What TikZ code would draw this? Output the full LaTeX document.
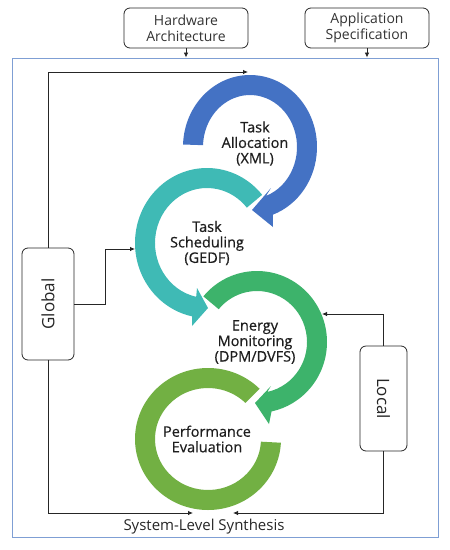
\documentclass[tikz,border=0pt]{standalone}
\usepackage{fontspec}
\setmainfont{Open Sans}
\newfontfamily\labfont{Open Sans}[FakeBold=0.6]
\usepackage{graphicx}
\usetikzlibrary{calc,arrows.meta}
\definecolor{bluec}{HTML}{4472C4}
\definecolor{tealc}{HTML}{3FBAB5}
\definecolor{greenc}{HTML}{3DB36B}
\definecolor{lgreenc}{HTML}{72B043}
\definecolor{framec}{HTML}{7F9FD4}
\definecolor{txtc}{HTML}{1E1E1E}
\tikzset{
  topbox/.style={draw=black!85, line width=0.8pt, rounded corners=6pt, minimum width=124pt, minimum height=40pt, inner sep=1pt, align=center, font=\fontsize{14}{15.5}\selectfont, text=black!80},
  sidebox/.style={draw=black!85, line width=0.8pt, rounded corners=6pt, inner sep=0pt, font=\fontsize{17}{17}\selectfont, text=black!85},
  framebox/.style={draw=framec, line width=0.9pt, minimum width=426pt, minimum height=479pt, inner sep=0pt},
  lab/.style={align=center, font=\labfont\fontsize{14.5}{15.5}\selectfont, text=txtc, inner sep=0pt},
  conn/.style={draw=black!85, line width=0.8pt, -{Latex[length=5pt,width=4.5pt]}},
}
\begin{document}
\begin{tikzpicture}[x=1pt,y=1pt]
\useasboundingbox (0,0) rectangle (450,-550);

% frame and input boxes
\node[framebox] (fr) at (225,-297.5) {};
\node[topbox] (hw) at (186,-28) {Hardware\\Architecture};
\node[topbox] (as) at (367,-28) {Application\\Specification};
\draw[conn] (hw.south) -- (hw.south |- fr.north);
\draw[conn] (as.south) -- (as.south |- fr.north);

% blue: Task Allocation
\fill[bluec] (250,-147) ++(178:67 and 72) arc[start angle=178, end angle=-70, x radius=67, y radius=72]
  -- (273,-227) -- (252,-210) -- (271,-188)
  -- ($(250,-147)+(-70:47 and 52)$) arc[start angle=-70, end angle=178, x radius=47, y radius=52] -- cycle;
% teal: Task Scheduling
\fill[tealc] (207,-243) ++(40:72 and 75) arc[start angle=40, end angle=258, x radius=72, y radius=75]
  -- (192,-326) -- (208,-308) -- (197,-288)
  -- ($(207,-243)+(258:52 and 55)$) arc[start angle=258, end angle=40, x radius=52, y radius=55] -- cycle;
% green: Energy Monitoring
\fill[greenc] (257,-342) ++(140:70 and 71) arc[start angle=140, end angle=-78, x radius=70, y radius=71]
  -- (269,-424) -- (255,-403) -- (271,-386)
  -- ($(257,-342)+(-78:50 and 51)$) arc[start angle=-78, end angle=140, x radius=50, y radius=51] -- cycle;
% light green: Performance Evaluation
\fill[lgreenc] (208,-439) ++(45:73 and 71) arc[start angle=45, end angle=357, x radius=73, y radius=71]
  -- ($(208,-439)+(357:53 and 51)$) arc[start angle=357, end angle=45, x radius=53, y radius=51] -- cycle;

% labels
\node[lab] (ta) at (255,-143.5) {Task\\Allocation\\(XML)};
\node[lab] (ts) at (207,-243) {Task\\Scheduling\\(GEDF)};
\node[lab] (em) at (255,-342) {Energy\\Monitoring\\(DPM/DVFS)};
\node[lab] (pe) at (207,-439) {Performance\\Evaluation};

% side boxes
\node[sidebox, minimum width=52pt, minimum height=112pt] (gl) at (48,-304) {\rotatebox{90}{Global}};
\node[sidebox, minimum width=47pt, minimum height=105pt] (lo) at (383.5,-398.5) {\rotatebox{-90}{Local}};

% connector end points
\coordinate (btop) at (248,-72);
\coordinate (tleft) at (135,-249);
\coordinate (pbl) at (193,-513);
\coordinate (gright) at (322,-314);
\coordinate (pbr) at (233,-513);

\draw[conn] (gl.north) |- (btop);
\draw[conn] (gl.east) -- ++(31,0) |- (tleft);
\draw[conn] (gl.south) |- (pbl);
\draw[conn] (lo.north) |- (gright);
\draw[conn] (lo.south) |- (pbr);

\node[font=\fontsize{15}{15}\selectfont, text=black!85, inner sep=0pt] (cap) at (204,-527) {System-Level Synthesis};
\end{tikzpicture}
\end{document}
